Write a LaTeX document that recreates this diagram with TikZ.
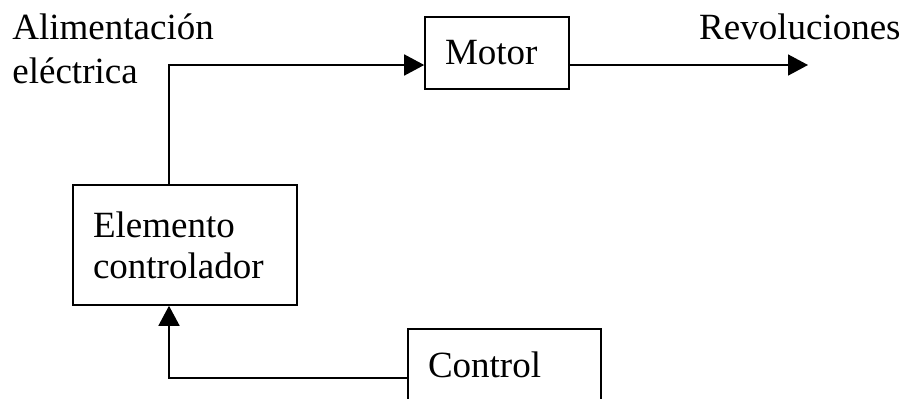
\documentclass[tikz,border=0pt]{standalone}
\usepackage{fontspec}
\setmainfont{Liberation Serif}
\usepackage{tikz}
\usetikzlibrary{arrows.meta}
\tikzset{
  block/.style={
    draw, line width=0.8pt, inner xsep=10pt, inner ysep=0pt,
    align=left, font=\fontsize{18.5}{20.5}\selectfont
  },
  arr/.style={
    -{Triangle[length=10pt,width=10.5pt]}, line width=0.8pt
  },
  sig/.style={
    inner sep=0pt, align=left, font=\fontsize{18.5}{22}\selectfont
  }
}

\begin{document}
\begin{tikzpicture}[x=0.5pt,y=-0.5pt]
\useasboundingbox (0,0) rectangle (904,398);
\clip (0,0) rectangle (904,398);

\node[block, text width=52pt, minimum height=36pt] (motor) at (497,53) {Motor};
\node[block, text width=92pt, minimum height=60pt] (elem) at (185,245) {Elemento\\controlador};
\node[block, text width=76.5pt, minimum height=36pt] (ctrl) at (504.5,365) {Control};

\node[sig, anchor=north west] (alim) at (12,13) {Alimentación\\eléctrica};
\node[sig, anchor=north east] (rev) at (901,13) {Revoluciones};

\coordinate (feed) at (169,65);
\coordinate (back) at (169,378);
\coordinate (out) at (808,65);

\draw[arr] (elem.north -| feed) |- (motor.west |- feed);
\draw[arr] (motor.east |- feed) -- (out);
\draw[arr] (ctrl.west |- back) -| (elem.south -| back);
\end{tikzpicture}
\end{document}
